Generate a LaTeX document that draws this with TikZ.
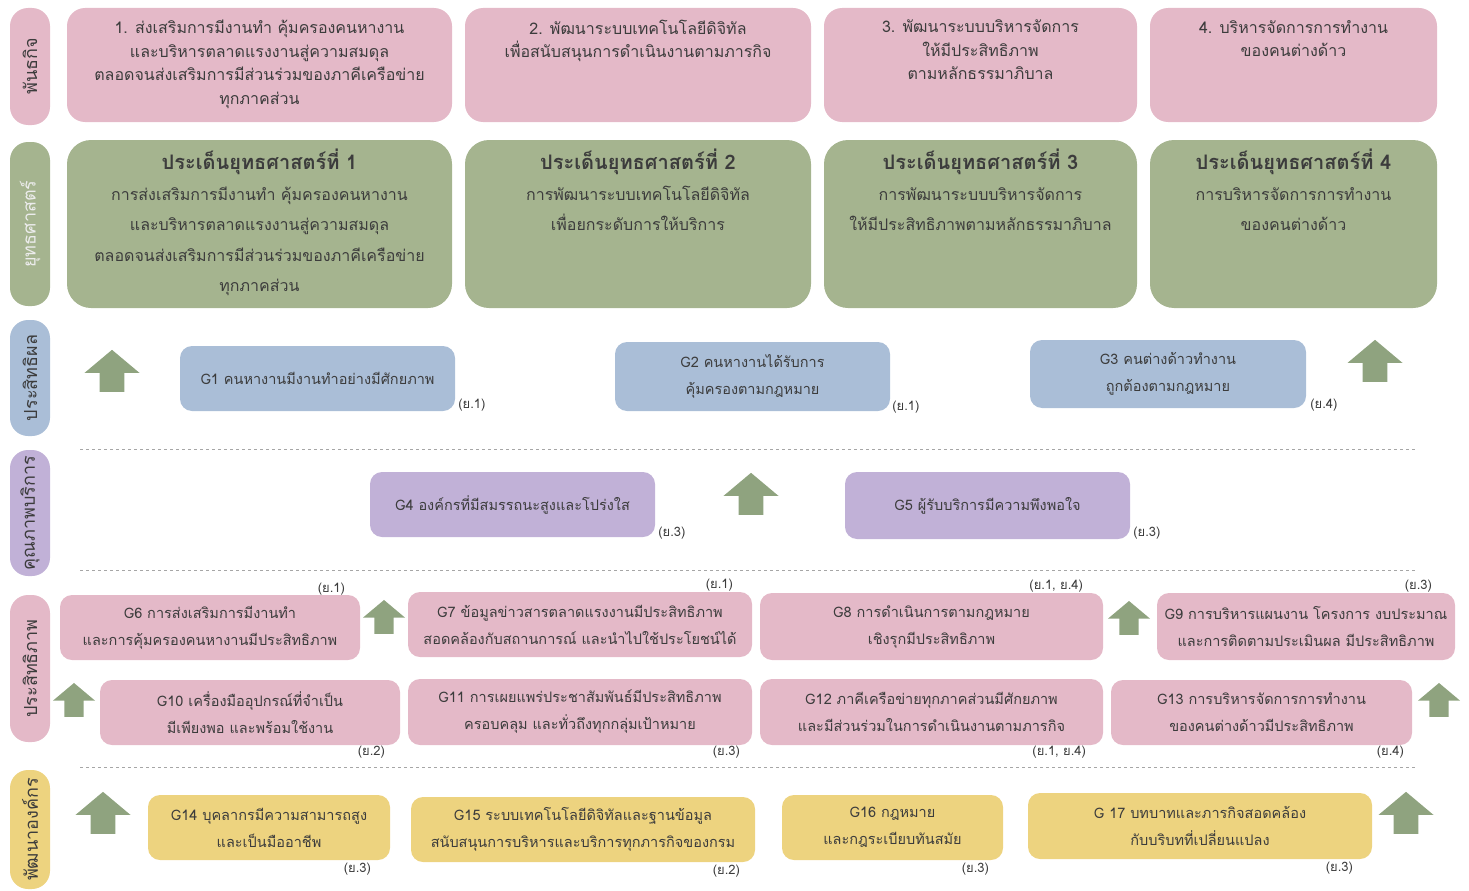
\documentclass[tikz,border=0pt]{standalone}
\usepackage{fontspec}
\setmainfont{Loma}[Script=Thai]
\usetikzlibrary{shapes,shapes.arrows,positioning}
\definecolor{pinkbox}{HTML}{E4B9C8}
\definecolor{greenbox}{HTML}{A5B48F}
\definecolor{bluebox}{HTML}{AABED7}
\definecolor{purplebox}{HTML}{C1B1D7}
\definecolor{yellowbox}{HTML}{EDD37F}
\definecolor{arrowgreen}{HTML}{8FA37F}
\definecolor{textgray}{HTML}{3C3C3C}

\begin{document}
\begin{tikzpicture}[x=1pt, y=-1pt, every node/.append style={text=textgray}]
      \tikzstyle{box} = [rounded corners=12pt, inner sep=0pt]
      \tikzstyle{mission} = [box, fill=pinkbox, rounded corners=18pt, minimum height=114]
      \tikzstyle{strat} = [box, fill=greenbox, rounded corners=24pt, minimum height=168]
      \tikzstyle{mtext} = [align=center, inner sep=0pt, font=\fontsize{16}{23.5}\selectfont]
      \tikzstyle{stext} = [align=center, inner sep=0pt, font=\fontsize{16}{30.5}\selectfont]
      \tikzstyle{goal} = [box, align=center, minimum height=65, font=\fontsize{14.5}{27}\selectfont]
      \tikzstyle{yut} = [inner sep=1pt, font=\fontsize{13}{14}\selectfont]
      \tikzstyle{side} = [rotate=90, rounded corners=18pt, minimum height=40, inner sep=0pt,
        font=\fontsize{18}{18}\selectfont]
      \tikzstyle{uparrow} = [single arrow, shape border rotate=90, fill=arrowgreen, inner sep=12pt,
        minimum height=42pt, minimum width=55pt, single arrow head extend=15pt, single arrow tip angle=100]
      \tikzstyle{smallarrow} = [uparrow, inner sep=9pt, minimum height=34pt, minimum width=42pt,
        single arrow head extend=11pt]
      \tikzstyle{sep} = [dashed, gray!70, line width=0.8pt]
      \useasboundingbox (0,0) rectangle (1469,891);

      \node (lmission) [side, fill=pinkbox, minimum width=117] at (30,66.5) {พันธกิจ};
      \node (lstrat) [side, fill=greenbox, minimum width=164, text=white!85!gray] at (30,224) {ยุทธศาสตร์};
      \node (leffect) [side, fill=bluebox, minimum width=116] at (30,378) {ประสิทธิผล};
      \node (lquality) [side, fill=purplebox, minimum width=126] at (30,513) {คุณภาพบริการ};
      \node (lefficiency) [side, fill=pinkbox, minimum width=147] at (30,668.5) {ประสิทธิภาพ};
      \node (ldevelop) [side, fill=yellowbox, minimum width=119] at (30,829.5) {พัฒนาองค์กร};

      \node (m1) [mission, minimum width=385] at (259.5,65) {};
      \node (m2) [mission, minimum width=346] at (638,65) {};
      \node (m3) [mission, minimum width=313] at (980.5,65) {};
      \node (m4) [mission, minimum width=287] at (1293.5,65) {};
      \node (m1text) [mtext, below=12pt of m1.north] {1. ส่งเสริมการมีงานทำ คุ้มครองคนหางาน\\และบริหารตลาดแรงงานสู่ความสมดุล\\ตลอดจนส่งเสริมการมีส่วนร่วมของภาคีเครือข่าย\\ทุกภาคส่วน};
      \node (m2text) [mtext, below=12pt of m2.north] {2. พัฒนาระบบเทคโนโลยีดิจิทัล\\เพื่อสนับสนุนการดำเนินงานตามภารกิจ};
      \node (m3text) [mtext, below=12pt of m3.north] {3. พัฒนาระบบบริหารจัดการ\\ให้มีประสิทธิภาพ\\ตามหลักธรรมาภิบาล};
      \node (m4text) [mtext, below=12pt of m4.north] {4. บริหารจัดการการทำงาน\\ของคนต่างด้าว};

      \node (s1) [strat, minimum width=385] at (259.5,224) {};
      \node (s2) [strat, minimum width=346] at (638,224) {};
      \node (s3) [strat, minimum width=313] at (980.5,224) {};
      \node (s4) [strat, minimum width=287] at (1293.5,224) {};
      \node (s1text) [stext, below=9pt of s1.north] {{\fontsize{20}{30.5}\selectfont\bfseries ประเด็นยุทธศาสตร์ที่ 1}\\การส่งเสริมการมีงานทำ คุ้มครองคนหางาน\\และบริหารตลาดแรงงานสู่ความสมดุล\\ตลอดจนส่งเสริมการมีส่วนร่วมของภาคีเครือข่าย\\ทุกภาคส่วน};
      \node (s2text) [stext, below=9pt of s2.north] {{\fontsize{20}{30.5}\selectfont\bfseries ประเด็นยุทธศาสตร์ที่ 2}\\การพัฒนาระบบเทคโนโลยีดิจิทัล\\เพื่อยกระดับการให้บริการ};
      \node (s3text) [stext, below=9pt of s3.north] {{\fontsize{20}{30.5}\selectfont\bfseries ประเด็นยุทธศาสตร์ที่ 3}\\การพัฒนาระบบบริหารจัดการ\\ให้มีประสิทธิภาพตามหลักธรรมาภิบาล};
      \node (s4text) [stext, below=9pt of s4.north] {{\fontsize{20}{30.5}\selectfont\bfseries ประเด็นยุทธศาสตร์ที่ 4}\\การบริหารจัดการการทำงาน\\ของคนต่างด้าว};

      \node (g1) [goal, fill=bluebox, minimum width=275] at (317.5,378.5) {G1 คนหางานมีงานทำอย่างมีศักยภาพ};
      \node (g2) [goal, fill=bluebox, minimum width=275, minimum height=69] at (752.5,376.5) {G2 คนหางานได้รับการ\\คุ้มครองตามกฎหมาย};
      \node (g3) [goal, fill=bluebox, minimum width=276, minimum height=68] at (1168,374) {G3 คนต่างด้าวทำงาน\\ถูกต้องตามกฎหมาย};
      \node (y1) [yut, above right=-1pt and 2pt of g1.south east] {(ย.1)};
      \node (y2) [yut, above right=-3pt and 1pt of g2.south east] {(ย.1)};
      \node (y3) [yut, above right=-4pt and 3pt of g3.south east] {(ย.4)};

      \node (g4) [goal, fill=purplebox, minimum width=285] at (512.5,504.5) {G4 องค์กรที่มีสมรรถนะสูงและโปร่งใส};
      \node (g5) [goal, fill=purplebox, minimum width=285, minimum height=67] at (987.5,505.5) {G5 ผู้รับบริการมีความพึงพอใจ};
      \node (y4) [yut, above right=-3pt and 2pt of g4.south east] {(ย.3)};
      \node (y5) [yut, above right=-1pt and 2pt of g5.south east] {(ย.3)};

      \node (g6) [goal, fill=pinkbox, minimum width=300] at (210,627.5) {G6 การส่งเสริมการมีงานทำ\\และการคุ้มครองคนหางานมีประสิทธิภาพ};
      \node (g7) [goal, fill=pinkbox, minimum width=344] at (580,624.5) {G7 ข้อมูลข่าวสารตลาดแรงงานมีประสิทธิภาพ\\สอดคล้องกับสถานการณ์ และนำไปใช้ประโยชน์ได้};
      \node (g8) [goal, fill=pinkbox, minimum width=343, minimum height=67] at (931.5,626.5) {G8 การดำเนินการตามกฎหมาย\\เชิงรุกมีประสิทธิภาพ};
      \node (g9) [goal, fill=pinkbox, minimum width=298, minimum height=67] at (1306,626.5) {G9 การบริหารแผนงาน โครงการ งบประมาณ\\และการติดตามประเมินผล มีประสิทธิภาพ};
      \node (y6) [yut, above left=-2pt and 14pt of g6.north east] {(ย.1)};
      \node (y7) [yut, above left=-1pt and 18pt of g7.north east] {(ย.1)};
      \node (y8) [yut, above left=-1pt and 19pt of g8.north east] {(ย.1, ย.4)};
      \node (y9) [yut, above left=-1pt and 22pt of g9.north east] {(ย.3)};

      \node (g10) [goal, fill=pinkbox, minimum width=300] at (250,712.5) {G10 เครื่องมืออุปกรณ์ที่จำเป็น\\มีเพียงพอ และพร้อมใช้งาน};
      \node (g11) [goal, fill=pinkbox, minimum width=344, minimum height=66] at (580,712) {G11 การเผยแพร่ประชาสัมพันธ์มีประสิทธิภาพ\\ครอบคลุม และทั่วถึงทุกกลุ่มเป้าหมาย};
      \node (g12) [goal, fill=pinkbox, minimum width=343, minimum height=66] at (931.5,712) {G12 ภาคีเครือข่ายทุกภาคส่วนมีศักยภาพ\\และมีส่วนร่วมในการดำเนินงานตามภารกิจ};
      \node (g13) [goal, fill=pinkbox, minimum width=301] at (1261.5,712.5) {G13 การบริหารจัดการการทำงาน\\ของคนต่างด้าวมีประสิทธิภาพ};
      \node (y10) [yut, below left=0pt and 14pt of g10.south east] {(ย.2)};
      \node (y11) [yut, below left=0pt and 11pt of g11.south east] {(ย.3)};
      \node (y12) [yut, below left=0pt and 16pt of g12.south east] {(ย.1, ย.4)};
      \node (y13) [yut, below left=0pt and 7pt of g13.south east] {(ย.4)};

      \node (g14) [goal, fill=yellowbox, minimum width=242] at (269,827.5) {G14 บุคลากรมีความสามารถสูง\\และเป็นมืออาชีพ};
      \node (g15) [goal, fill=yellowbox, minimum width=344] at (583,829.5) {G15 ระบบเทคโนโลยีดิจิทัลและฐานข้อมูล\\สนับสนุนการบริหารและบริการทุกภารกิจของกรม};
      \node (g16) [goal, fill=yellowbox, minimum width=221] at (892.5,827.5) {G16 กฎหมาย\\และกฎระเบียบทันสมัย};
      \node (g17) [goal, fill=yellowbox, minimum width=344, minimum height=66] at (1200,826) {G 17 บทบาทและภารกิจสอดคล้อง\\กับบริบทที่เปลี่ยนแปลง};
      \node (y14) [yut, below left=2pt and 18pt of g14.south east] {(ย.3)};
      \node (y15) [yut, below left=2pt and 14pt of g15.south east] {(ย.2)};
      \node (y16) [yut, below left=2pt and 13pt of g16.south east] {(ย.3)};
      \node (y17) [yut, below left=2pt and 18pt of g17.south east] {(ย.3)};

      \node (a1) [uparrow] at (112,376) {};
      \node (a2) [uparrow] at (1375,366) {};
      \node (a3) [uparrow] at (751,499) {};
      \node (a4) [smallarrow] at (384,621) {};
      \node (a5) [smallarrow] at (1129,622) {};
      \node (a6) [smallarrow] at (74,704) {};
      \node (a7) [smallarrow] at (1439,704) {};
      \node (a8) [uparrow] at (103,818) {};
      \node (a9) [uparrow] at (1406,818) {};

      \draw [sep] (80,449) -- (1415,449);
      \draw [sep] (80,570) -- (1415,570);
      \draw [sep] (80,767) -- (1415,767);
    \end{tikzpicture}
\end{document}
